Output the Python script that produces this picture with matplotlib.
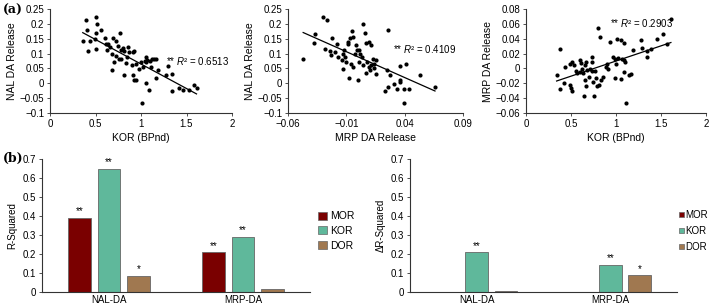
import numpy as np
import matplotlib.pyplot as plt
from matplotlib.ticker import FuncFormatter
from matplotlib.patches import Patch

plt.rcParams['font.family'] = ['Liberation Sans', 'DejaVu Sans']
plt.rcParams['mathtext.fontset'] = 'custom'
plt.rcParams['mathtext.it'] = 'Liberation Sans:italic'
plt.rcParams['mathtext.rm'] = 'Liberation Sans'

# ---- panel (a): KOR BPnd vs NAL DA release
kor_a = [0.36, 0.40, 0.41, 0.42, 0.44, 0.49, 0.50, 0.50, 0.51, 0.52, 0.56, 0.60, 0.62, 0.63,
         0.64, 0.66, 0.68, 0.68, 0.69, 0.70, 0.72, 0.73, 0.75, 0.77, 0.76, 0.78, 0.78, 0.80,
         0.81, 0.81, 0.83, 0.85, 0.86, 0.87, 0.90, 0.91, 0.91, 0.92, 0.94, 0.92, 0.95, 0.98,
         1.00, 1.01, 1.02, 1.04, 1.05, 1.06, 1.06, 1.07, 1.09, 1.10, 1.11, 1.12, 1.14, 1.16,
         1.17, 1.19, 1.28, 1.30, 1.34, 1.34, 1.42, 1.46, 1.53, 1.58, 1.61]
nal_a = [0.143, 0.213, 0.181, 0.107, 0.143, 0.150, 0.115, 0.222, 0.168, 0.200, 0.178, 0.154,
         0.133, 0.111, 0.133, 0.123, 0.046, 0.100, 0.154, 0.071, 0.091, 0.143, 0.127, 0.168,
         0.082, 0.111, 0.082, 0.118, 0.027, 0.109, 0.069, 0.089, 0.123, 0.104, 0.060, 0.104,
         0.029, 0.012, 0.010, 0.109, 0.066, 0.047, 0.070, -0.065, 0.055, 0.074, 0.089, 0.002,
         0.072, 0.078, -0.021, 0.075, 0.055, 0.082, 0.083, 0.082, 0.019, 0.044, 0.027, 0.059,
         0.030, -0.027, -0.015, -0.021, -0.021, -0.007, -0.015]

# MRP DA release vs NAL DA release
mrp_b = [-0.047, -0.038, -0.037, -0.030, -0.027, -0.028, -0.024, -0.022, -0.023, -0.020,
         -0.018, -0.017, -0.014, -0.013, -0.013, -0.012, -0.011, -0.010, -0.009, -0.009,
         -0.008, -0.007, -0.006, -0.005, -0.004, -0.004, -0.003, -0.002, 0.000, -0.001,
         0.001, 0.001, 0.002, 0.004, 0.006, 0.003, 0.004, 0.007, 0.007, 0.008, 0.009, 0.009,
         0.010, 0.011, 0.011, 0.013, 0.014, 0.014, 0.015, 0.015, 0.026, 0.025, 0.023, 0.026,
         0.027, 0.031, 0.033, 0.036, 0.036, 0.036, 0.039, 0.039, 0.041, 0.044, 0.053, 0.066]
nal_b = [0.083, 0.134, 0.166, 0.222, 0.213, 0.117, 0.109, 0.151, 0.095, 0.106, 0.131, 0.089,
         0.080, 0.047, 0.100, 0.111, 0.089, 0.072, 0.140, 0.131, 0.018, 0.151, 0.066, 0.177,
         0.055, 0.157, 0.098, 0.128, 0.012, 0.111, 0.072, 0.111, 0.100, 0.200, 0.168, 0.089,
         0.063, 0.134, 0.033, 0.072, 0.140, 0.055, 0.044, 0.128, 0.061, 0.083, 0.050, 0.066,
         0.030, 0.078, 0.181, 0.046, -0.026, -0.012, 0.027, -0.003, -0.020, 0.010, 0.005,
         0.059, -0.020, -0.065, 0.066, -0.020, 0.027, -0.012]

# KOR BPnd vs MRP DA release
kor_c = [0.34, 0.38, 0.38, 0.42, 0.43, 0.49, 0.49, 0.50, 0.51, 0.51, 0.53, 0.55, 0.57, 0.60,
         0.60, 0.61, 0.62, 0.63, 0.64, 0.65, 0.66, 0.67, 0.67, 0.68, 0.70, 0.71, 0.73, 0.73,
         0.73, 0.74, 0.76, 0.77, 0.78, 0.79, 0.80, 0.81, 0.82, 0.83, 0.85, 0.89, 0.90, 0.91,
         0.93, 0.97, 0.99, 0.99, 1.00, 1.01, 1.02, 1.05, 1.06, 1.07, 1.09, 1.09, 1.09, 1.10,
         1.11, 1.14, 1.17, 1.19, 1.28, 1.29, 1.34, 1.34, 1.39, 1.46, 1.52, 1.57, 1.61]
mrp_c = [-0.0086, -0.0276, 0.0266, -0.019, 0.002, 0.006, -0.022, -0.026, -0.030, 0.008,
         0.005, -0.004, -0.006, -0.005, 0.011, 0.007, -0.0005, -0.006, -0.037, 0.004, -0.015,
         -0.023, 0.009, -0.002, -0.011, -0.0005, 0.015, 0.009, -0.004, -0.018, -0.037, -0.004,
         -0.013, -0.023, 0.055, -0.022, 0.042, -0.016, -0.011, 0.002, 0.006, -0.0005, 0.036,
         0.015, -0.013, 0.013, 0.006, 0.040, 0.014, -0.014, 0.038, 0.013, 0.034, -0.005,
         0.011, 0.009, -0.047, -0.009, -0.007, 0.025, 0.038, 0.028, 0.024, 0.015, 0.026,
         0.039, 0.046, 0.033, 0.067]

r2_labels = ['0.6513', '0.4109', '0.2903']

# ---- panel (b): bars
groups = ['NAL-DA', 'MRP-DA']
receptors = ['MOR', 'KOR', 'DOR']
colors = ['#7a0000', '#5fb89b', '#a07850']
r_squared = {'MOR': [0.39, 0.21], 'KOR': [0.65, 0.29], 'DOR': [0.085, 0.015]}
r_stars = {'MOR': ['**', '**'], 'KOR': ['**', '**'], 'DOR': ['*', '']}
dr_squared = {'MOR': [0.0, 0.0], 'KOR': [0.21, 0.143], 'DOR': [0.003, 0.088]}
dr_stars = {'MOR': ['', ''], 'KOR': ['**', '**'], 'DOR': ['', '*']}

W, H = 709, 308
fig = plt.figure(figsize=(W / 100, H / 100), dpi=100)


def box(left, right, top, bottom):
    return [left / W, 1 - bottom / H, (right - left) / W, (bottom - top) / H]


def fmt(v, pos):
    s = '%g' % round(v, 4)
    return s.replace('-', '\u2212')


def style(ax):
    for s in ['top', 'right']:
        ax.spines[s].set_visible(False)
    for s in ['left', 'bottom']:
        ax.spines[s].set_color('#333333')
        ax.spines[s].set_linewidth(0.8)
    ax.tick_params(labelsize=7, length=2, width=0.6, color='#333333', pad=2)
    ax.xaxis.set_major_formatter(FuncFormatter(fmt))
    ax.yaxis.set_major_formatter(FuncFormatter(fmt))


def scatter(ax, x, y, xlim, xticks, ylim, yticks, xlabel, ylabel, r2, txt_xy):
    ax.scatter(x, y, s=9, color='black', linewidths=0)
    k, b = np.polyfit(x, y, 1)
    xs = np.array([min(x), max(x)])
    ax.plot(xs, k * xs + b, color='black', lw=0.9)
    ax.set_xlim(xlim)
    ax.set_ylim(ylim)
    ax.set_xticks(xticks)
    ax.set_yticks(yticks)
    ax.set_xlabel(xlabel, fontsize=7.5, labelpad=3)
    ax.set_ylabel(ylabel, fontsize=7.5, labelpad=2)
    ax.text(txt_xy[0], txt_xy[1], '** $R$² = ' + r2, fontsize=7, va='center')
    style(ax)


ax1 = fig.add_axes(box(50, 232, 9, 113))
scatter(ax1, kor_a, nal_a, (0, 2), [0, 0.5, 1, 1.5, 2], (-0.1, 0.25),
        np.arange(-0.1, 0.26, 0.05), 'KOR (BPnd)', 'NAL DA Release', r2_labels[0], (1.28, 0.074))

ax2 = fig.add_axes(box(288, 463, 9, 113))
scatter(ax2, mrp_b, nal_b, (-0.06, 0.09), [-0.06, -0.01, 0.04, 0.09], (-0.1, 0.25),
        np.arange(-0.1, 0.26, 0.05), 'MRP DA Release', 'NAL DA Release', r2_labels[1], (0.030, 0.114))

ax3 = fig.add_axes(box(526, 706, 9, 113))
scatter(ax3, kor_c, mrp_c, (0, 2), [0, 0.5, 1, 1.5, 2], (-0.06, 0.08),
        np.arange(-0.06, 0.081, 0.02), 'KOR (BPnd)', 'MRP DA Release', r2_labels[2], (0.93, 0.0605))


def bars(ax, data, stars, ylabel):
    x = np.arange(len(groups))
    for i, r in enumerate(receptors):
        xs = x + (i - 1) * 0.22
        ax.bar(xs, data[r], width=0.17, color=colors[i], edgecolor='#666666', linewidth=0.6)
        for xx, v, st in zip(xs, data[r], stars[r]):
            if st:
                ax.text(xx, v + 0.008, st, ha='center', va='bottom', fontsize=7)
    style(ax)
    ax.set_xlim(-0.5, 1.5)
    ax.set_ylim(0, 0.7)
    ax.set_yticks(np.arange(0, 0.71, 0.1))
    ax.set_xticks(x)
    ax.set_xticklabels(groups)
    ax.set_ylabel(ylabel, fontsize=7, labelpad=4)
    ax.tick_params(axis='x', length=0)


handles = [Patch(facecolor=c, edgecolor='#666666', linewidth=0.5) for c in colors]

ax4 = fig.add_axes(box(42, 310, 159, 292))
bars(ax4, r_squared, r_stars, 'R-Squared')
fig.legend(handles, receptors, loc='center left', bbox_to_anchor=(313 / W, 1 - 231 / H),
           frameon=False, fontsize=7.5, handlelength=0.8, handleheight=0.8,
           handletextpad=0.3, labelspacing=0.45, borderpad=0)

ax5 = fig.add_axes(box(410, 677, 159, 292))
bars(ax5, dr_squared, dr_stars, '\u0394R-Squared')
fig.legend(handles, receptors, loc='center left', bbox_to_anchor=(674 / W, 1 - 231 / H),
           frameon=False, fontsize=7, handlelength=0.5, handleheight=0.5,
           handletextpad=0.2, labelspacing=0.6, borderpad=0)

fig.text(3 / W, 1 - 10 / H, '(a)', family='DejaVu Serif', weight='bold', fontsize=9, va='center')
fig.text(3 / W, 1 - 158 / H, '(b)', family='DejaVu Serif', weight='bold', fontsize=9, va='center')

fig.savefig('out.png', dpi=100)
